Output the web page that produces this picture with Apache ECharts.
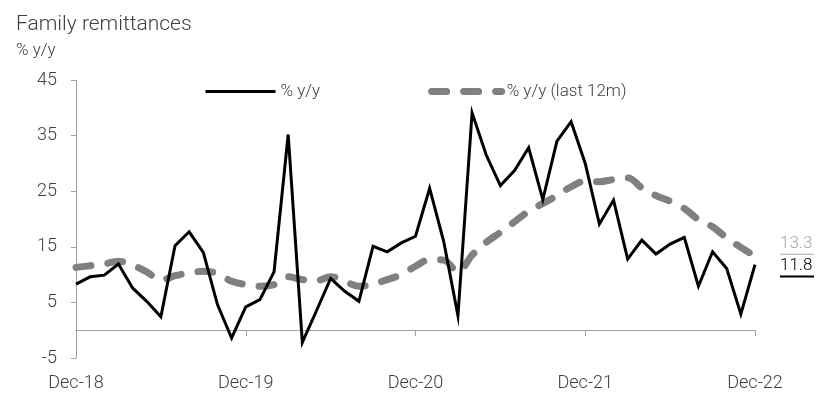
<!DOCTYPE html>
<html>
<head>
<meta charset="utf-8">
<script src="https://cdn.jsdelivr.net/npm/echarts@6/dist/echarts.min.js"></script>
<style>
  html, body { margin: 0; padding: 0; background: #fff; }
  #chart { width: 817px; height: 396px; }
</style>
</head>
<body>
<div id="chart"></div>
<script>
// Monthly categories, Dec-18 .. Dec-22
const months = [
  'Dec-18','Jan-19','Feb-19','Mar-19','Apr-19','May-19','Jun-19','Jul-19','Aug-19','Sep-19','Oct-19','Nov-19',
  'Dec-19','Jan-20','Feb-20','Mar-20','Apr-20','May-20','Jun-20','Jul-20','Aug-20','Sep-20','Oct-20','Nov-20',
  'Dec-20','Jan-21','Feb-21','Mar-21','Apr-21','May-21','Jun-21','Jul-21','Aug-21','Sep-21','Oct-21','Nov-21',
  'Dec-21','Jan-22','Feb-22','Mar-22','Apr-22','May-22','Jun-22','Jul-22','Aug-22','Sep-22','Oct-22','Nov-22',
  'Dec-22'
];

// Family remittances, % y/y
const yoy = [
  8.3, 9.6, 9.9, 11.9, 7.6, 5.2, 2.4, 15.2, 17.7, 14.0, 4.6, -1.4,
  4.2, 5.5, 10.5, 35.2, -2.2, 3.5, 9.3, 7.0, 5.2, 15.1, 14.1, 15.7,
  16.9, 25.5, 15.9, 2.6, 39.1, 31.5, 26.0, 28.7, 32.8, 23.5, 34.0, 37.5,
  30.0, 19.1, 23.4, 12.8, 16.2, 13.7, 15.5, 16.7, 7.9, 14.1, 11.1, 2.9,
  11.8
];

// Family remittances, % y/y of the trailing 12-month sum
const yoy12m = [
  11.3, 11.6, 11.9, 12.4, 11.7, 10.5, 9.0, 9.8, 10.3, 10.6, 10.2, 8.8,
  8.2, 7.9, 8.2, 9.6, 9.1, 8.9, 9.6, 8.8, 7.9, 8.3, 9.1, 10.0,
  11.5, 12.7, 12.6, 10.5, 13.5, 15.8, 17.6, 19.5, 21.4, 22.8, 24.2, 25.8,
  26.8, 26.7, 27.1, 27.4, 25.6, 24.2, 23.2, 21.9, 19.9, 18.6, 16.6, 14.9,
  13.3
];

const FONT = 'Roboto, "Liberation Sans", sans-serif';
const WEIGHT = 300;
const TEXT = '#404040';
const AXIS = '#a0a0a0';

const dashStyle = { color: '#808080', width: 7, type: [15, 17], cap: 'round', join: 'round' };
const solidStyle = { color: '#000000', width: 3, join: 'miter' };

const chart = echarts.init(document.getElementById('chart'), null, { renderer: 'canvas' });

chart.setOption({
  animation: false,
  backgroundColor: '#ffffff',
  textStyle: { fontFamily: FONT, color: TEXT, fontWeight: WEIGHT },
  title: [
    { text: 'Family remittances', left: 11, top: 9,
      textStyle: { fontFamily: FONT, fontSize: 21, fontWeight: WEIGHT, color: TEXT } },
    { text: '% y/y', left: 11, top: 37,
      textStyle: { fontFamily: FONT, fontSize: 17, fontWeight: WEIGHT, color: TEXT } }
  ],
  legend: {
    left: 199, top: 78,
    itemWidth: 70, itemHeight: 14, itemGap: 108,
    itemStyle: { opacity: 0 },
    textStyle: { fontFamily: FONT, fontSize: 17, fontWeight: WEIGHT, color: TEXT },
    data: [
      { name: '% y/y', lineStyle: { width: 3 } },
      { name: '% y/y (last 12m)', lineStyle: { width: 7 } }
    ]
  },
  grid: { left: 76, right: 62, top: 80, bottom: 38, containLabel: false, outerBoundsMode: 'none' },
  xAxis: [
    {
      // axis line through zero, with yearly ticks
      type: 'category',
      data: months,
      boundaryGap: false,
      axisLine: { onZero: true, lineStyle: { color: AXIS, width: 1 } },
      axisTick: { interval: 11, length: 6, lineStyle: { color: AXIS } },
      axisLabel: { show: false }
    },
    {
      // year labels along the bottom edge
      type: 'category',
      data: months,
      position: 'bottom',
      boundaryGap: false,
      axisLine: { show: false, onZero: false },
      axisTick: { show: false },
      axisLabel: { interval: 11, margin: 16, fontFamily: FONT, fontWeight: WEIGHT, fontSize: 18, color: TEXT }
    }
  ],
  yAxis: {
    type: 'value',
    min: -5, max: 45, interval: 10,
    splitLine: { show: false },
    axisLine: { show: true, onZero: false, lineStyle: { color: AXIS, width: 1 } },
    axisTick: { show: true, length: 5, lineStyle: { color: AXIS } },
    axisLabel: { margin: 19, fontFamily: FONT, fontWeight: WEIGHT, fontSize: 18, color: TEXT }
  },
  series: [
    {
      name: '% y/y (last 12m)',
      type: 'line',
      data: yoy12m,
      smooth: 0.35,
      symbol: 'none',
      z: 2,
      lineStyle: dashStyle,
      itemStyle: { color: '#808080' },
      endLabel: {
        show: true,
        distance: 25,
        offset: [0, -11],
        formatter: p => '{v|' + p.value.toFixed(1) + '}\n{u|}',
        rich: {
          v: { fontFamily: FONT, fontWeight: WEIGHT, fontSize: 17, color: '#a6a6a6', lineHeight: 18 },
          u: { width: 34, height: 1, lineHeight: 3, backgroundColor: '#a6a6a6' }
        }
      }
    },
    {
      name: '% y/y',
      type: 'line',
      data: yoy,
      symbol: 'none',
      z: 3,
      lineStyle: solidStyle,
      itemStyle: { color: '#000000' },
      endLabel: {
        show: true,
        distance: 25,
        offset: [0, 3],
        formatter: p => '{v|' + p.value.toFixed(1) + '}\n{u|}',
        rich: {
          v: { fontFamily: FONT, fontWeight: WEIGHT, fontSize: 17, color: '#000000', lineHeight: 18 },
          u: { width: 34, height: 2, lineHeight: 4, backgroundColor: '#000000' }
        }
      }
    }
  ]
});
</script>
</body>
</html>
